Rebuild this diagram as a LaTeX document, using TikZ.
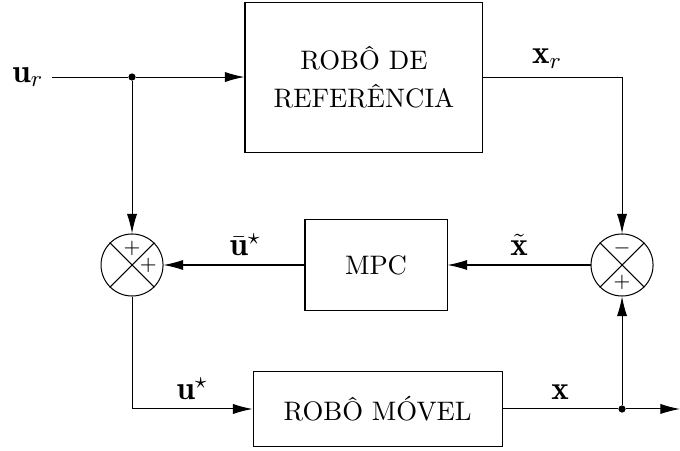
\documentclass[tikz,border=0pt]{standalone}
\usepackage{fontspec}
\usepackage{amsmath}
\usetikzlibrary{arrows.meta}
\tikzstyle{blk}=[shape=rectangle,
                 draw=black,
                 thin,
                 font=\fontsize{10.5pt}{13pt}\selectfont,
                 align=center]
\tikzstyle{sumc}=[shape=circle,
                  draw=black,
                  thin,
                  inner sep=0pt,
                  minimum size=0.856cm]
\tikzstyle{junc}=[shape=circle,
                  fill=black,
                  inner sep=0pt,
                  minimum size=1mm]
\tikzstyle{sig}=[font=\fontsize{13pt}{15pt}\selectfont]

\begin{document}
\begin{tikzpicture}[>={Latex[length=2.7mm,width=1.4mm]},thin]
\useasboundingbox (0,0) rectangle (9.384,6.21);

% blocks
\node[blk, minimum width=3.284cm, minimum height=2.07cm] (ref) at (5.023, 5.147) {ROBÔ DE\\[2pt]REFERÊNCIA};
\node[blk, minimum width=1.96cm, minimum height=1.256cm] (mpc) at (5.189, 2.553) {MPC};
\node[blk, minimum width=3.436cm, minimum height=1.035cm] (movel) at (5.21, 0.566) {ROBÔ MÓVEL};

% summing junctions
\node[sumc] (suml) at (1.822, 2.553) {};
\node[sumc] (sumr) at (8.584, 2.553) {};
\draw (suml.north west) -- (suml.south east) (suml.north east) -- (suml.south west);
\draw (sumr.north west) -- (sumr.south east) (sumr.north east) -- (sumr.south west);
\node (pla) at ([yshift=0.235cm]suml.center) {\footnotesize$+$};
\node (plb) at ([xshift=0.225cm]suml.center) {\footnotesize$+$};
\node (mnr) at ([yshift=0.235cm]sumr.center) {\footnotesize$-$};
\node (plr) at ([yshift=-0.235cm]sumr.center) {\footnotesize$+$};

% signals
\node[sig] (ur) at (0.386, 5.147) {$\mathbf{u}_r$};
\node[junc] (dota) at (1.822, 5.147) {};
\node[junc] (dotb) at (8.584, 0.566) {};
\coordinate (out) at (9.384, 0.566);

% paths
\draw (ur) -- (dota);
\path[->] (dota) edge (ref)
          (dota) edge (suml)
          (sumr) edge node[sig, above, pos=0.5] {$\tilde{\mathbf{x}}$} (mpc)
          (mpc) edge node[sig, above, pos=0.42] {$\bar{\mathbf{u}}^\star$} (suml)
          (dotb) edge (sumr)
          (dotb) edge (out);
\draw[->] (ref) -| node[sig, above, pos=0.23] {$\mathbf{x}_r$} (sumr);
\draw[->] (suml) |- node[sig, above, pos=0.75] {$\mathbf{u}^\star$} (movel);
\draw (movel) -- node[sig, above] {$\mathbf{x}$} (dotb);
\end{tikzpicture}
\end{document}
